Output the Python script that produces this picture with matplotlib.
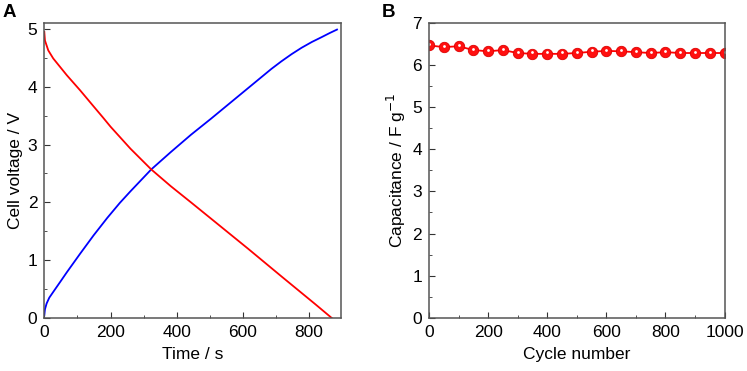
import numpy as np
import matplotlib.pyplot as plt
import matplotlib.transforms as mtransforms
from matplotlib.ticker import MultipleLocator

plt.rcParams['font.family'] = ['Liberation Sans', 'DejaVu Sans']

# Panel A: galvanostatic charge / discharge
t_charge = [0, 2, 7, 15, 27, 50, 68, 108, 149, 190, 228, 260, 323, 382, 443,
            504, 595, 686, 716, 747, 777, 808, 838, 862, 884]
v_charge = [0.05, 0.15, 0.25, 0.35, 0.45, 0.64, 0.79, 1.11, 1.43, 1.73, 1.99,
            2.19, 2.57, 2.87, 3.17, 3.45, 3.88, 4.31, 4.44, 4.565, 4.675, 4.775,
            4.86, 4.93, 4.99]
t_dis = [0, 2, 12, 27, 68, 108, 149, 177, 200, 260, 323, 382, 443, 514, 615,
         716, 818, 868]
v_dis = [4.95, 4.80, 4.63, 4.49, 4.20, 3.94, 3.66, 3.47, 3.31, 2.93, 2.57,
         2.28, 2.00, 1.67, 1.20, 0.72, 0.24, 0.0]

# Panel B: cycling stability
cycles = np.arange(0, 1001, 50)
capacitance = [6.46, 6.42, 6.44, 6.35, 6.32, 6.35, 6.28, 6.26, 6.26, 6.26, 6.28,
               6.31, 6.33, 6.32, 6.30, 6.28, 6.30, 6.28, 6.28, 6.28, 6.28]

fs = 12.5

fig = plt.figure(figsize=(7.47, 3.71), dpi=100)
axA = fig.add_axes([0.0593, 0.143, 0.3967, 0.796])
axB = fig.add_axes([0.5743, 0.143, 0.3957, 0.796])

axA.plot(t_charge, v_charge, color='#0000ff', lw=1.3)
axA.plot(t_dis, v_dis, color='#ff0000', lw=1.3)
axA.set_xlim(0, 895)
axA.set_ylim(0, 5.11)
axA.xaxis.set_major_locator(MultipleLocator(200))
axA.xaxis.set_minor_locator(MultipleLocator(100))
axA.yaxis.set_major_locator(MultipleLocator(1))
axA.yaxis.set_minor_locator(MultipleLocator(0.5))
axA.set_xlabel('Time / s', fontsize=fs, labelpad=5)
axA.set_ylabel('Cell voltage / V', fontsize=fs, labelpad=3)

axB.plot(cycles, capacitance, color='#ff0000', lw=1.3, marker='o', ms=7.5,
         mfc='#ff1010', mec='#dd0000', mew=0.6)
off = mtransforms.offset_copy(axB.transData, fig=fig, x=0, y=1, units='points')
axB.plot(cycles, capacitance, ls='none', marker='o', ms=2, mfc='white',
         mec='none', transform=off)
axB.set_xlim(0, 1000)
axB.set_ylim(0, 7)
axB.xaxis.set_major_locator(MultipleLocator(200))
axB.xaxis.set_minor_locator(MultipleLocator(100))
axB.yaxis.set_major_locator(MultipleLocator(1))
axB.yaxis.set_minor_locator(MultipleLocator(0.5))
axB.set_xlabel('Cycle number', fontsize=fs, labelpad=5)
axB.set_ylabel('Capacitance / F g$^{-1}$', fontsize=fs, labelpad=3)

for ax in (axA, axB):
    for s in ax.spines.values():
        s.set_color('#555555')
        s.set_linewidth(1.1)
    ax.tick_params(which='both', direction='in', top=False, right=False,
                   color='#333333', labelsize=fs, pad=5)
    ax.tick_params(which='major', length=4)
    ax.tick_params(which='minor', length=2.5)

fig.text(0.004, 0.953, 'A', fontsize=13.5, fontweight='bold')
fig.text(0.511, 0.953, 'B', fontsize=13.5, fontweight='bold')

fig.savefig('out.png', dpi=100)
